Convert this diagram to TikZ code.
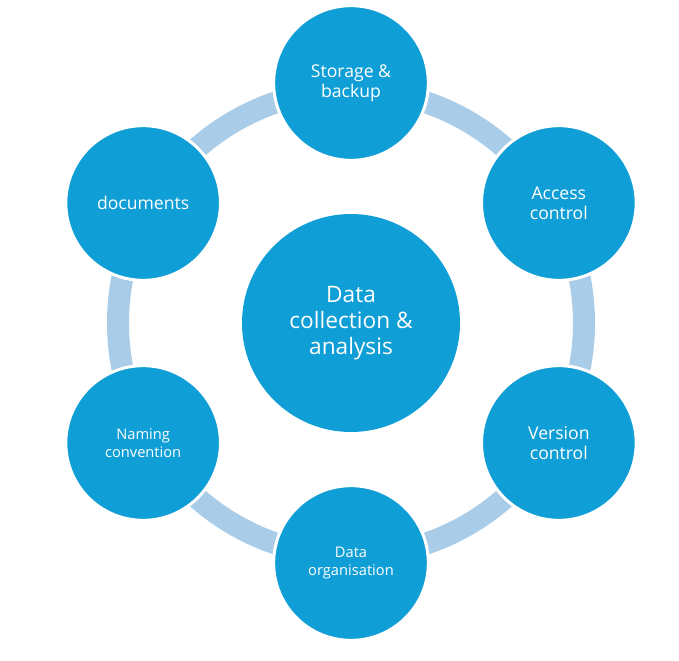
\documentclass[tikz,border=0pt]{standalone}
\usepackage{fontspec}
\setmainfont{Open Sans}
\usetikzlibrary{calc}
\definecolor{hubblue}{HTML}{0F9ED5}
\definecolor{ringblue}{HTML}{A9CCE8}
\tikzset{
    hub/.style={circle, fill=hubblue, text=white, minimum size=163.5pt, inner sep=0pt,
        align=center, font=\fontsize{17}{19.5}\selectfont},
    spoke/.style={circle, fill=hubblue, draw=white, line width=2.25pt, text=white,
        minimum size=116pt, inner sep=0pt, align=center},
    bigtext/.style={font=\fontsize{13.2}{15}\selectfont},
    smalltext/.style={font=\fontsize{11}{13.5}\selectfont},
    ring/.style={ringblue, line width=16.5pt}
}

\begin{document}
\begin{tikzpicture}[x=0.75pt,y=0.75pt]
    \useasboundingbox (-351,-338) rectangle (328,323);
    \node[hub] (hub) at (0,0) {Data\\collection \&\\analysis};
    \draw[ring] (hub.center) circle (233);
    \foreach \ang/\name/\txt/\sz in {
            90/storage/{Storage \&\\backup}/bigtext,
            30/access/{Access\\control}/bigtext,
            -30/version/{Version\\control}/bigtext,
            -90/organisation/{Data\\organisation}/smalltext,
            -150/naming/{Naming\\convention}/smalltext,
            150/documents/{documents}/bigtext}
        \node[spoke,\sz] (\name) at ($(hub.center)+(\ang:240)$) {\txt};
\end{tikzpicture}
\end{document}
